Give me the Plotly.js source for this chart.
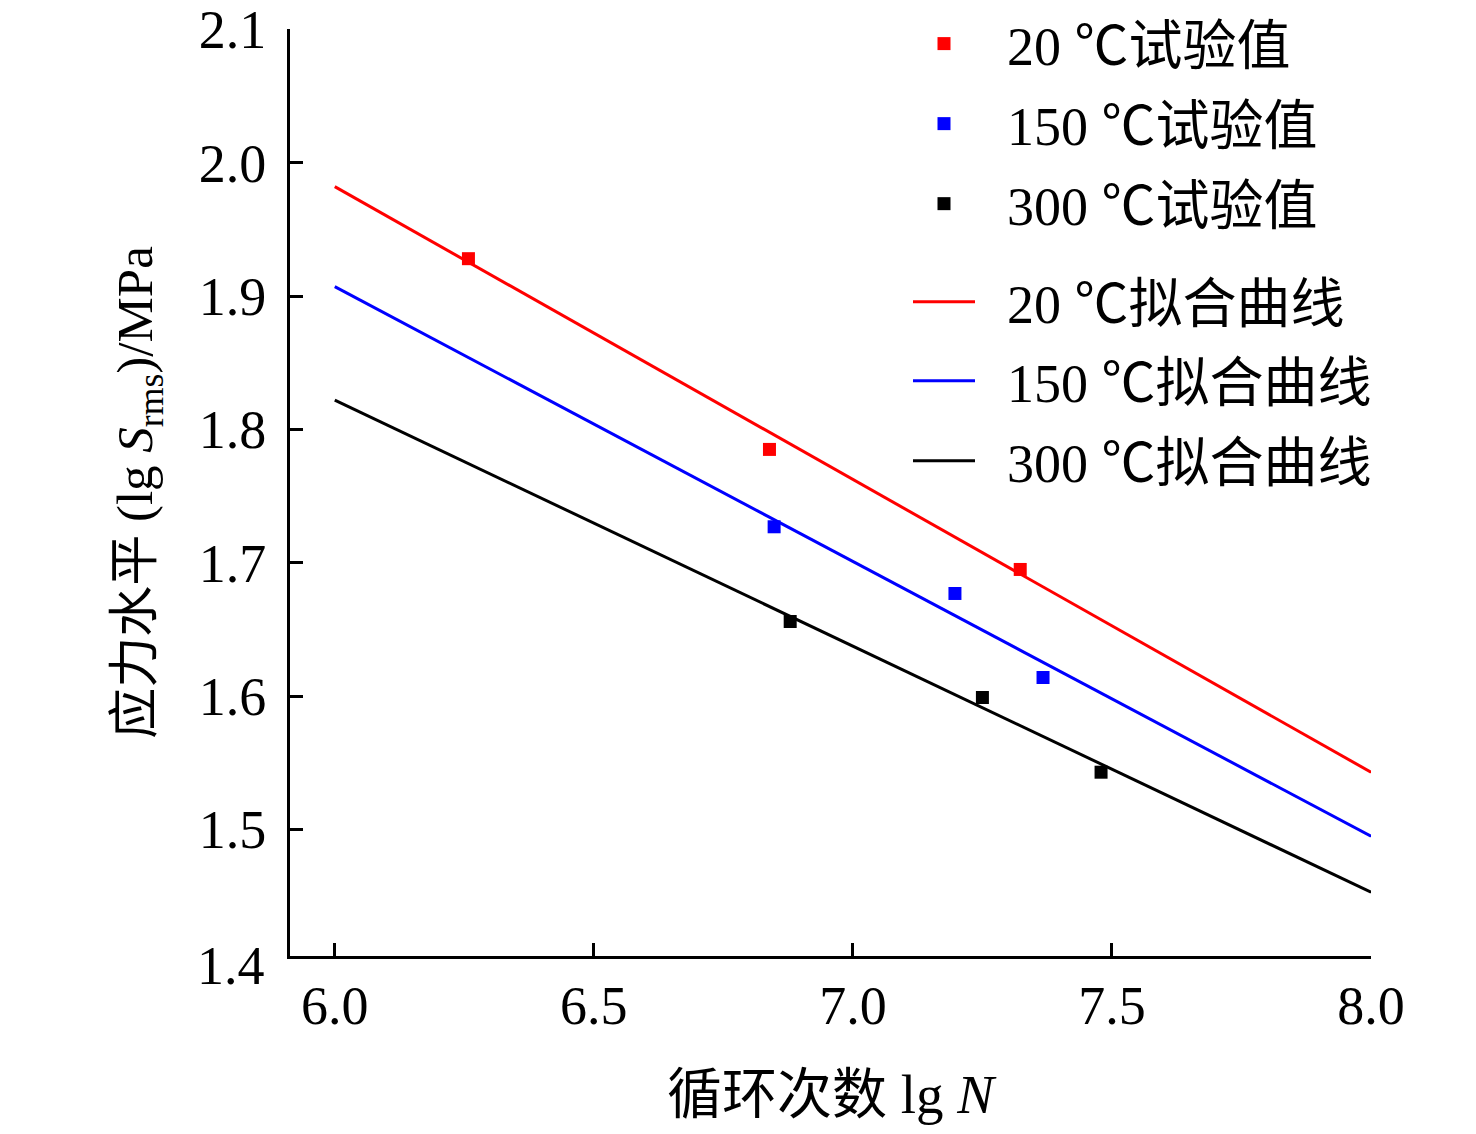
<!DOCTYPE html>
<html>
<head>
<meta charset="utf-8">
<script src="https://cdn.plot.ly/plotly-3.0.1.min.js"></script>
<style>html,body{margin:0;padding:0;background:#fff;}#chart{width:1476px;height:1134px;}</style>
</head>
<body>
<div id="chart"></div>
<script>
// Experimental values (lg N, lg S_rms)
const x20 = [6.258, 6.839, 7.323];
const y20 = [1.928, 1.785, 1.695];
const x150 = [6.848, 7.197, 7.367];
const y150 = [1.727, 1.677, 1.614];
const x300 = [6.879, 7.250, 7.479];
const y300 = [1.656, 1.599, 1.543];
// Fitted lines (endpoints)
const fitX = [6.0, 8.0];
const fit20 = [1.982, 1.543];
const fit150 = [1.907, 1.495];
const fit300 = [1.822, 1.453];
const xTicks = [6.0, 6.5, 7.0, 7.5, 8.0];
const yTicks = [1.5, 1.6, 1.7, 1.8, 1.9, 2.0, 2.1];
const yBottomLabel = '1.4';
const names = ['20 ℃试验值', '150 ℃试验值', '300 ℃试验值', '20 ℃拟合曲线', '150 ℃拟合曲线', '300 ℃拟合曲线'];
const colors = ['#ff0000', '#0000ff', '#000000'];

const FONT = 'Liberation Serif, "Noto Sans CJK SC", serif';

const W = 1476, H = 1134;
const L = 290, R = 1371, T = 29, B = 955.7;
const YMIN = 1.4052, YMAX = 2.1002;

const expX = [x20, x150, x300], expY = [y20, y150, y300];
const fitY = [fit20, fit150, fit300];
const legendIds = ['legend', 'legend2', 'legend3', 'legend4', 'legend5', 'legend6'];
const pad = '\u00a0\u00a0';
const traces = [];
for (let i = 0; i < 3; i++) {
  traces.push({
    x: expX[i], y: expY[i], mode: 'markers', type: 'scatter', name: pad + names[i],
    marker: {symbol: 'square', size: 13, color: colors[i]},
    legend: legendIds[i], cliponaxis: false
  });
}
for (let i = 0; i < 3; i++) {
  traces.push({
    x: fitX, y: fitY[i], mode: 'lines', type: 'scatter', name: pad + names[3 + i],
    line: {color: colors[i], width: 3},
    legend: legendIds[3 + i], cliponaxis: false
  });
}

const legFont = {family: FONT, size: 54, color: '#000'};
const rowCenters = [44, 124, 204, 302, 381, 461];
const legLeft = 908;

const layout = {
  width: W, height: H,
  margin: {l: L, r: W - R, t: T, b: H - B, pad: 0, autoexpand: false},
  paper_bgcolor: '#fff', plot_bgcolor: '#fff',
  font: {family: FONT, size: 54, color: '#000'},
  showlegend: true,
  xaxis: {
    range: [5.9136, 8.0], tickvals: xTicks, tickformat: '.1f',
    ticks: 'inside', ticklen: 13, tickwidth: 3, tickcolor: '#000',
    showline: true, linewidth: 3, linecolor: '#000', mirror: false,
    showgrid: false, zeroline: false,
    tickfont: {family: FONT, size: 54, color: '#000'},
    title: {text: '循环次数 lg <i>N</i>', font: {family: FONT, size: 55, color: '#000'}, standoff: 40}
  },
  yaxis: {
    range: [YMIN, YMAX], tickvals: yTicks, tickformat: '.1f',
    ticks: 'inside', ticklen: 13, tickwidth: 3, tickcolor: '#000',
    showline: true, linewidth: 3, linecolor: '#000', mirror: false,
    showgrid: false, zeroline: false, ticklabelstandoff: 10,
    tickfont: {family: FONT, size: 54, color: '#000'},
    title: {text: '应力水平 (lg <i>S</i><sub>rms</sub>)/MPa', font: {family: FONT, size: 51, color: '#000'}, standoff: 30}
  },
  annotations: [{
    x: 0, xref: 'paper', y: (1.4 - YMIN) / (YMAX - YMIN), yref: 'paper', text: yBottomLabel, showarrow: false,
    xanchor: 'right', yanchor: 'middle', xshift: -23, yshift: -3,
    font: {family: FONT, size: 54, color: '#000'}
  }]
};
for (let i = 0; i < 6; i++) {
  layout[legendIds[i]] = {
    x: (legLeft - L) / (R - L), y: (B - rowCenters[i]) / (B - T),
    xanchor: 'left', yanchor: 'middle',
    bgcolor: 'rgba(0,0,0,0)', borderwidth: 0, font: legFont, itemwidth: 62
  };
}

Plotly.newPlot('chart', traces, layout, {displayModeBar: false, staticPlot: true});
</script>
</body>
</html>
